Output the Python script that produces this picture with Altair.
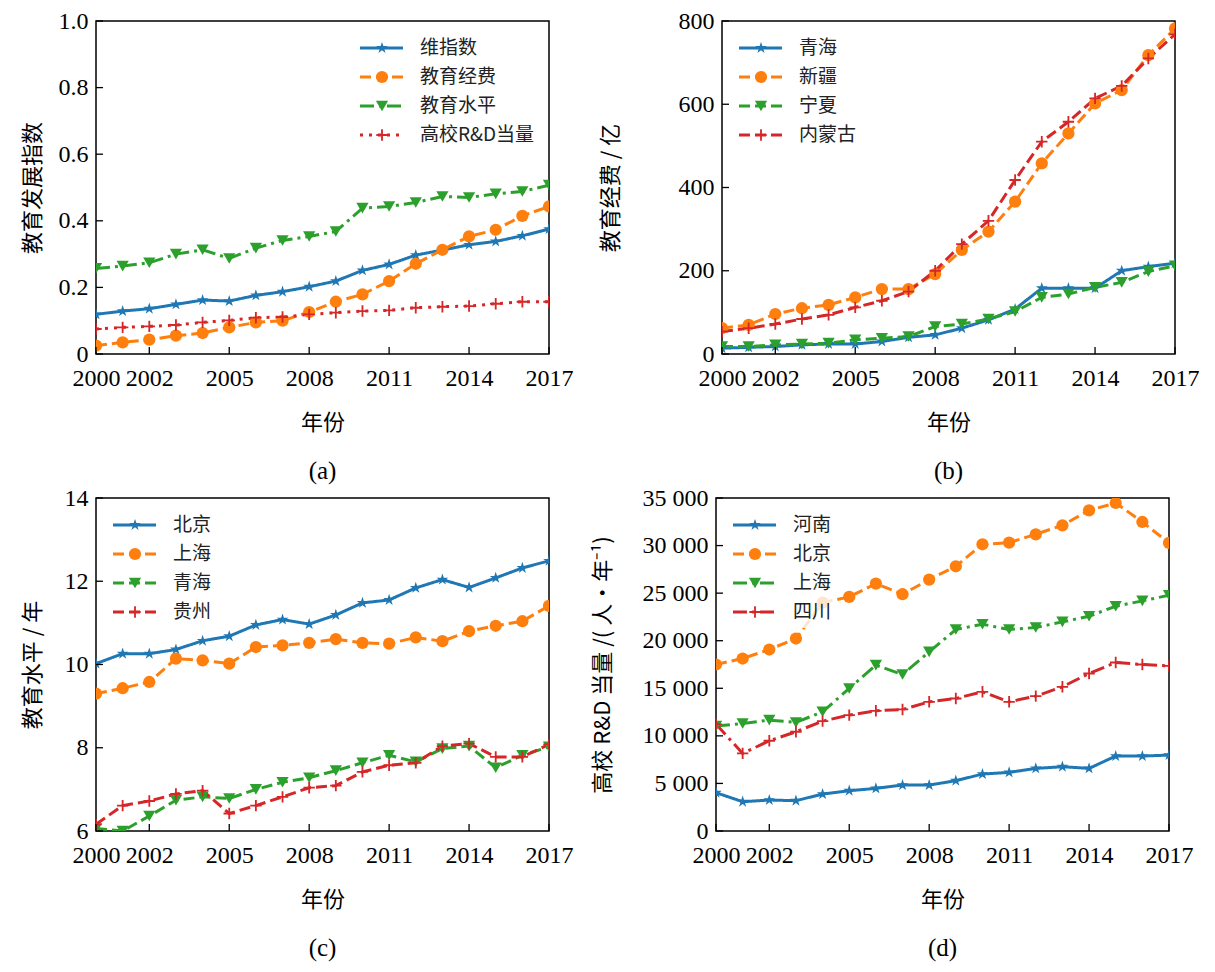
import altair as alt
import pandas as pd

years = list(range(2000, 2018))
x_ticks = [2000, 2002, 2005, 2008, 2011, 2014, 2017]
colors = ["#1f77b4", "#ff7f0e", "#2ca02c", "#d62728"]

# ---- panel (a) ----
a_names = ["维指数", "教育经费", "教育水平", "高校R&D当量"]
a_index = [0.119, 0.129, 0.136, 0.149, 0.162, 0.159, 0.176, 0.187, 0.202, 0.219,
           0.251, 0.269, 0.297, 0.312, 0.328, 0.338, 0.355, 0.375]
a_funding = [0.025, 0.035, 0.043, 0.055, 0.063, 0.080, 0.095, 0.100, 0.126, 0.157,
             0.179, 0.219, 0.271, 0.313, 0.353, 0.373, 0.415, 0.443]
a_level = [0.257, 0.264, 0.274, 0.300, 0.313, 0.287, 0.318, 0.341, 0.353, 0.368,
           0.438, 0.443, 0.455, 0.473, 0.470, 0.481, 0.488, 0.507]
a_rd = [0.075, 0.080, 0.083, 0.087, 0.095, 0.101, 0.109, 0.111, 0.119, 0.124,
        0.129, 0.131, 0.139, 0.142, 0.144, 0.151, 0.157, 0.157]
a_yticks = [0, 0.2, 0.4, 0.6, 0.8, 1.0]

# ---- panel (b) ----
b_names = ["青海", "新疆", "宁夏", "内蒙古"]
b_qinghai = [14, 16, 18, 22, 24, 24, 30, 40, 46, 62, 82, 108, 158, 158, 158, 200, 210, 218]
b_xinjiang = [62, 70, 96, 110, 118, 136, 156, 156, 192, 250, 294, 366, 458, 530, 602, 634, 718, 782]
b_ningxia = [18, 18, 22, 24, 26, 34, 38, 42, 66, 72, 84, 102, 136, 144, 160, 172, 198, 212]
b_neimenggu = [54, 62, 72, 84, 94, 112, 128, 150, 200, 264, 320, 418, 510, 558, 614, 644, 710, 768]
b_yticks = [0, 200, 400, 600, 800]

# ---- panel (c) ----
c_names = ["北京", "上海", "青海", "贵州"]
c_beijing = [10.02, 10.26, 10.26, 10.36, 10.57, 10.68, 10.95, 11.08, 10.97, 11.19,
             11.48, 11.55, 11.84, 12.04, 11.85, 12.08, 12.32, 12.49]
c_shanghai = [9.30, 9.43, 9.58, 10.14, 10.10, 10.02, 10.42, 10.46, 10.52, 10.61,
              10.52, 10.50, 10.65, 10.56, 10.80, 10.93, 11.04, 11.41]
c_qinghai = [6.06, 6.00, 6.36, 6.74, 6.82, 6.78, 7.00, 7.17, 7.28, 7.45,
             7.64, 7.82, 7.66, 7.98, 8.04, 7.52, 7.82, 8.02]
c_guizhou = [6.16, 6.61, 6.72, 6.89, 6.97, 6.42, 6.61, 6.82, 7.04, 7.09,
             7.42, 7.58, 7.64, 8.04, 8.10, 7.78, 7.78, 8.08]
c_yticks = [6, 8, 10, 12, 14]

# ---- panel (d) ----
d_names = ["河南", "北京", "上海", "四川"]
d_henan = [4025, 3080, 3255, 3185, 3885, 4235, 4480, 4830, 4830, 5285,
           5985, 6160, 6580, 6755, 6580, 7875, 7875, 7980]
d_beijing = [17500, 18130, 19075, 20230, 24000, 24605, 26005, 24885, 26425, 27825,
             30135, 30310, 31185, 32130, 33705, 34475, 32480, 30275]
d_shanghai = [11025, 11305, 11655, 11410, 12530, 14980, 17430, 16450, 18830, 21175,
              21735, 21175, 21385, 21980, 22575, 23625, 24185, 24780]
d_sichuan = [11235, 8155, 9485, 10430, 11550, 12180, 12635, 12775, 13580, 13930,
             14630, 13580, 14175, 15155, 16555, 17710, 17500, 17360]
d_yticks = [0, 5000, 10000, 15000, 20000, 25000, 30000, 35000]

STAR = ("M0,-1L0.2245,-0.309L0.951,-0.309L0.363,0.118L0.588,0.809L0,0.382"
        "L-0.588,0.809L-0.363,0.118L-0.951,-0.309L-0.2245,-0.309Z")
PLUS = ("M-1,-0.16L-0.16,-0.16L-0.16,-1L0.16,-1L0.16,-0.16L1,-0.16L1,0.16"
        "L0.16,0.16L0.16,1L-0.16,1L-0.16,0.16L-1,0.16Z")
shapes = [STAR, "circle", "triangle-down", PLUS]
sizes = [150, 150, 150, 130]

SOLID = [1, 0]
DASH = [11, 5]
DASHDOT = [14, 5, 3, 5]
DOT = [3, 6]

W, H = 453, 333
SERIF = "Liberation Serif"
CJK = "Noto Sans CJK SC"
LBL = 24


def panel(names, series, dashes, ydom, yticks, ytitle, label_expr, ypad, lx, box, sub):
    x_scale = alt.Scale(domain=[2000, 2017], nice=False, zero=False)
    y_scale = alt.Scale(domain=ydom, nice=False, zero=False)
    x_axis = alt.Axis(values=x_ticks, format="d", title="年份",
                      labelFont=SERIF, labelFontSize=LBL,
                      titleFont=CJK, titleFontSize=22,
                      titlePadding=22, labelPadding=12,
                      labelOverlap=False, labelFlush=False)
    yaxis = dict(values=yticks, title=ytitle, titlePadding=ypad, labelPadding=8,
                 labelFont=SERIF, labelFontSize=LBL, titleFont=CJK, titleFontSize=22)
    if label_expr:
        yaxis["labelExpr"] = label_expr
    y_axis = alt.Axis(**yaxis)

    layers = []
    for i, (name, vals) in enumerate(zip(names, series)):
        df = pd.DataFrame({"year": years, "value": vals, "series": name})
        layers.append(alt.Chart(df).mark_line(strokeWidth=3, clip=True, color=colors[i],
                                              strokeDash=dashes[i]).encode(
            x=alt.X("year:Q", scale=x_scale, axis=x_axis),
            y=alt.Y("value:Q", scale=y_scale, axis=y_axis),
            order="year:Q"))
    for i, (name, vals) in enumerate(zip(names, series)):
        df = pd.DataFrame({"year": years, "value": vals, "series": name})
        layers.append(alt.Chart(df).mark_point(filled=True, opacity=1, size=sizes[i], clip=True,
                                               color=colors[i], shape=shapes[i]).encode(
            x="year:Q", y="value:Q"))

    xt = alt.Chart(pd.DataFrame({"year": x_ticks})).mark_rule(color="black", strokeWidth=1.3).encode(
        x="year:Q", y=alt.value(H), y2=alt.value(H - 7))
    yt = alt.Chart(pd.DataFrame({"value": yticks})).mark_rule(color="black", strokeWidth=1.3).encode(
        y="value:Q", x=alt.value(0), x2=alt.value(7))
    layers += [xt, yt]

    bx0, by0, bx1, by1 = box
    layers.append(alt.Chart(pd.DataFrame({"k": [0]})).mark_rect(fill="white", opacity=0.8).encode(
        x=alt.value(bx0), x2=alt.value(bx1), y=alt.value(by0), y2=alt.value(by1)))

    row_y = [27, 56, 85, 114]
    for i, name in enumerate(names):
        d1 = pd.DataFrame({"series": [name]})
        layers.append(alt.Chart(d1).mark_rule(strokeWidth=3, color=colors[i],
                                              strokeDash=dashes[i]).encode(
            x=alt.value(lx), x2=alt.value(lx + 43), y=alt.value(row_y[i])))
        layers.append(alt.Chart(d1).mark_point(filled=True, opacity=1, size=sizes[i],
                                               color=colors[i], shape=shapes[i]).encode(
            x=alt.value(lx + 22), y=alt.value(row_y[i])))
        layers.append(alt.Chart(d1).mark_text(align="left", baseline="middle", font=CJK,
                                              fontSize=19, color="#222").encode(
            x=alt.value(lx + 60), y=alt.value(row_y[i]), text="series:N"))

    return alt.layer(*layers).properties(
        width=W, height=H,
        title=alt.TitleParams(text=sub, orient="bottom", font=SERIF, fontSize=25,
                              fontWeight="normal", offset=26, color="black"),
    )


pa = panel(a_names, [a_index, a_funding, a_level, a_rd], [SOLID, DASH, DASHDOT, DOT],
           [0, 1.0], a_yticks, "教育发展指数",
           "datum.value == 0 ? '0' : format(datum.value, '.1f')", 14, 264, (258, 8, 446, 128), "(a)")
pb = panel(b_names, [b_qinghai, b_xinjiang, b_ningxia, b_neimenggu], [SOLID, DASH, DASH, DASH],
           [0, 800], b_yticks, "教育经费 / 亿", None, 56, 17, (8, 8, 140, 128), "(b)")
pc = panel(c_names, [c_beijing, c_shanghai, c_qinghai, c_guizhou], [SOLID, DASH, DASH, DASH],
           [6, 14], c_yticks, "教育水平 / 年", None, 20, 17, (8, 8, 118, 130), "(c)")
pd_ = panel(d_names, [d_henan, d_beijing, d_shanghai, d_sichuan], [SOLID, DASH, DASHDOT, DASHDOT],
            [0, 35000], d_yticks, "高校 R&D 当量 /( 人·年⁻¹)",
            "replace(format(datum.value, ',d'), ',', ' ')", 28, 17, (8, 8, 118, 130), "(d)")

chart = alt.vconcat(
    alt.hconcat(pa, pb, spacing=24),
    alt.hconcat(pc, pd_, spacing=16),
    spacing=0,
).properties(
    padding={"left": 12, "top": 0, "right": 5, "bottom": 5},
    background="white",
).configure_view(
    stroke="black", strokeWidth=1.5
).configure_axis(
    labelFont=SERIF, labelFontSize=LBL, labelColor="black",
    titleFont=CJK, titleFontSize=22, titleFontWeight="normal", titleColor="black",
    domain=False, ticks=False, grid=False,
)

chart.save("out.html", embed_options={"renderer": "svg", "actions": False})
